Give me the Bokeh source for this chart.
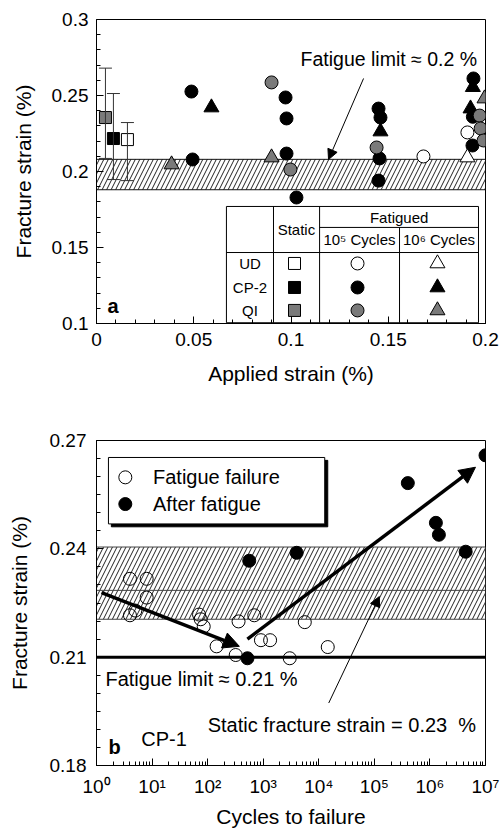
from bokeh.plotting import figure
from bokeh.layouts import column
from bokeh.models import (Arrow, NormalHead, Whisker, ColumnDataSource, FixedTicker,
                          CustomJSTickFormatter, Span, TeeHead)
from bokeh.core.properties import value
from bokeh.embed import file_html
from bokeh.resources import INLINE

FONT = "Liberation Sans"
BLACK, GRAY, WHITE = "#000000", "#7a7a7a", "#ffffff"

# ---------------- (a) fracture strain vs applied strain ----------------
static_x = [0.0159, 0.0087, 0.0046]          # UD, CP-2, QI
static_y = [0.221, 0.2217, 0.2355]
static_lo = [0.194, 0.1947, 0.2086]
static_hi = [0.2322, 0.2513, 0.268]
static_color = [WHITE, BLACK, GRAY]

ud_c5_x = [0.1681, 0.1907]
ud_c5_y = [0.2099, 0.2257]
cp2_c5_x = [0.0488, 0.0494, 0.0972, 0.0977, 0.0977, 0.1028, 0.145, 0.146, 0.1455, 0.145, 0.1938, 0.1933, 0.1935]
cp2_c5_y = [0.2526, 0.2079, 0.2487, 0.2349, 0.2118, 0.1829, 0.2414, 0.2355, 0.2086, 0.194, 0.2612, 0.2171, 0.2360]
qi_c5_x = [0.09, 0.0997, 0.144, 0.197, 0.1975, 0.199]
qi_c5_y = [0.2586, 0.2013, 0.2158, 0.2368, 0.2283, 0.2204]

ud_c6_x = [0.1907]
ud_c6_y = [0.2092]
cp2_c6_x = [0.0591, 0.146, 0.1935, 0.1923]
cp2_c6_y = [0.2421, 0.2263, 0.2555, 0.2414]
qi_c6_x = [0.0386, 0.09, 0.1995]
qi_c6_y = [0.2046, 0.2092, 0.248]

band_a = (0.188, 0.208)
fatigue_limit_a_arrow = (0.1373, 0.2612, 0.1193, 0.2079)

p1 = figure(width=502, height=405, x_range=(0, 0.2), y_range=(0.1, 0.3),
            output_backend="svg", toolbar_location=None,
            min_border_left=96, min_border_right=17, min_border_top=19, min_border_bottom=82)


def style(p, xlabel, ylabel, xlabel_standoff, ylabel_standoff, xstd, ystd):
    p.background_fill_color = "white"
    p.border_fill_color = "white"
    p.outline_line_color = "black"
    p.outline_line_width = 1
    p.xgrid.visible = False
    p.ygrid.visible = False
    for ax in (p.xaxis[0], p.yaxis[0]):
        ax.axis_line_color = "black"
        ax.major_tick_in = 7
        ax.major_tick_out = 0
        ax.minor_tick_in = 4
        ax.minor_tick_out = 0
        ax.major_tick_line_color = "black"
        ax.minor_tick_line_color = "black"
        ax.major_label_text_font = FONT
        ax.major_label_text_font_size = "19px"
        ax.major_label_text_color = "black"
        ax.axis_label_text_font = FONT
        ax.axis_label_text_font_size = "21px"
        ax.axis_label_text_font_style = "normal"
        ax.axis_label_text_color = "black"
    p.xaxis[0].axis_label = xlabel
    p.yaxis[0].axis_label = ylabel
    p.xaxis[0].axis_label_standoff = xlabel_standoff
    p.yaxis[0].axis_label_standoff = ylabel_standoff
    p.xaxis[0].major_label_standoff = xstd
    p.yaxis[0].major_label_standoff = ystd


style(p1, "Applied strain (%)", "Fracture strain (%)", 13, 14, 9, 8)
num_fmt = CustomJSTickFormatter(code="return String(Number(tick.toFixed(4)));")
p1.xaxis[0].ticker = FixedTicker(ticks=[0, 0.05, 0.1, 0.15, 0.2],
                                 minor_ticks=[i * 0.01 for i in range(21)])
p1.yaxis[0].ticker = FixedTicker(ticks=[0.1, 0.15, 0.2, 0.25, 0.3],
                                 minor_ticks=[0.1 + i * 0.01 for i in range(21)])
p1.xaxis[0].formatter = num_fmt
p1.yaxis[0].formatter = num_fmt

# hatched fatigue-limit band
p1.quad(left=[0], right=[0.2], bottom=[band_a[0]], top=[band_a[1]],
        fill_color=None, hatch_pattern="/", hatch_color="#222222", hatch_weight=1,
        hatch_scale=9, line_color="#111111", line_width=1)

# static strength with scatter bars
src_static = ColumnDataSource(dict(x=static_x, y=static_y, lo=static_lo, hi=static_hi,
                                   c=static_color))
wh = Whisker(source=src_static, base="x", lower="lo", upper="hi", dimension="height",
             line_color="#333333", line_width=1, level="glyph",
             lower_head=TeeHead(size=13, line_color="#333333", line_width=1),
             upper_head=TeeHead(size=13, line_color="#333333", line_width=1))
p1.add_layout(wh)
p1.scatter("x", "y", source=src_static, marker="square", size=12,
           fill_color="c", line_color="black", line_width=1)

CIRC, TRI = 13, 15
p1.scatter(cp2_c5_x, cp2_c5_y, marker="circle", size=CIRC, fill_color=BLACK, line_color="black")
p1.scatter(cp2_c6_x, cp2_c6_y, marker="triangle", size=TRI, fill_color=BLACK, line_color="black")
p1.scatter(qi_c5_x, qi_c5_y, marker="circle", size=CIRC, fill_color=GRAY, line_color="black")
p1.scatter(qi_c6_x, qi_c6_y, marker="triangle", size=TRI, fill_color=GRAY, line_color="black")
p1.scatter(ud_c5_x, ud_c5_y, marker="circle", size=CIRC, fill_color=WHITE, line_color="black")
p1.scatter(ud_c6_x, ud_c6_y, marker="triangle", size=TRI, fill_color=WHITE, line_color="black")

p1.text(x=[0.1049], y=[0.2737], text=["Fatigue limit \u2248 0.2 %"], text_font=value(FONT),
        text_font_size="19.5px", text_align="left", text_baseline="middle", text_color="black")
x0, y0, x1, y1 = fatigue_limit_a_arrow
p1.add_layout(Arrow(x_start=x0, y_start=y0, x_end=x1, y_end=y1, line_width=1,
                    line_color="black",
                    end=NormalHead(size=10, fill_color="black", line_color="black", line_width=1)))
p1.text(x=[0.0057], y=[0.1112], text=["a"], text_font=value(FONT), text_font_size="20px",
        text_font_style="bold", text_align="left", text_baseline="middle")

# legend table
TL, TR, TT, TB = 0.0668, 0.1964, 0.177, 0.1005
C1, C2, C3 = 0.091, 0.1147, 0.1558
H1, H2 = 0.1467, 0.1632
p1.quad(left=[TL], right=[TR], bottom=[TB], top=[TT], fill_color="white",
        line_color="black", line_width=1)
p1.segment(x0=[C1, C2, C3, TL, C2], y0=[TB, TB, TB, H1, H2],
           x1=[C1, C2, C3, TR, TR], y1=[TT, TT, H2, H1, H2],
           line_color="black", line_width=1)
row_y = [0.1395, 0.1237, 0.1086]
p1.text(x=[0.0789] * 3, y=row_y, text=["UD", "CP-2", "QI"], text_font=value(FONT),
        text_font_size="15px", text_align="center", text_baseline="middle")
p1.text(x=[0.1028, 0.1556, 0.1352, 0.1761], y=[0.1618, 0.1700, 0.1550, 0.1550],
        text=["Static", "Fatigued", "10\u2075 Cycles", "10\u2076 Cycles"],
        text_font=value(FONT), text_font_size="15px", text_align="center",
        text_baseline="middle")
cols = [WHITE, BLACK, GRAY]
p1.scatter([0.1018] * 3, row_y, marker="square", size=12, fill_color=cols, line_color="black")
p1.scatter([0.1342] * 3, row_y, marker="circle", size=CIRC, fill_color=cols, line_color="black")
p1.scatter([0.1753] * 3, row_y, marker="triangle", size=TRI, fill_color=cols, line_color="black")

# ---------------- (b) CP-1 fracture strain vs cycles ----------------
fail_cycles = [4, 8, 8, 5, 4, 70, 75, 85, 145, 320, 360, 690, 910, 1330, 3000, 5600, 14500]
fail_strain = [0.2317, 0.2317, 0.2265, 0.2229, 0.2216, 0.2218, 0.2205, 0.2185, 0.213,
               0.2106, 0.2199, 0.2216, 0.2147, 0.2147, 0.2097, 0.2197, 0.2128]
after_cycles = [520, 560, 4000, 4.0e5, 1.28e6, 1.45e6, 4.4e6, 1.0e7]
after_strain = [0.2097, 0.2367, 0.2389, 0.2582, 0.2472, 0.2439, 0.2392, 0.2659]

fatigue_limit_b = 0.21
static_strain_b = 0.2285
band_b = (0.2205, 0.2405)
trend_down = (1.23, 0.2279, 372, 0.213)
trend_up = (520, 0.215, 6.6e6, 0.2626)
static_pointer = (15100, 0.1973, 123000, 0.2268)

p2 = figure(width=502, height=425, x_axis_type="log", x_range=(1, 1e7), y_range=(0.18, 0.27),
            output_backend="svg", toolbar_location=None,
            min_border_left=93, min_border_right=17, min_border_top=35, min_border_bottom=64)
style(p2, "Cycles to failure", "Fracture strain (%)", 5, 16, 10, 10)
p2.xaxis[0].ticker = FixedTicker(ticks=[10 ** d for d in range(8)],
                                 minor_ticks=[k * 10 ** d for d in range(7) for k in range(2, 10)])
p2.xaxis[0].formatter = CustomJSTickFormatter(code="""
const sup = ['\u2070','\u00b9','\u00b2','\u00b3','\u2074','\u2075','\u2076','\u2077','\u2078','\u2079'];
return '10' + sup[Math.round(Math.log10(tick))];
""")
p2.yaxis[0].ticker = FixedTicker(ticks=[0.18, 0.21, 0.24, 0.27],
                                 minor_ticks=[0.18 + i * 0.005 for i in range(19)])
p2.yaxis[0].formatter = num_fmt

p2.quad(left=[1], right=[1e7], bottom=[band_b[0]], top=[band_b[1]],
        fill_color=None, hatch_pattern="/", hatch_color="#222222", hatch_weight=1,
        hatch_scale=9, line_color="#444444", line_width=1)
p2.add_layout(Span(location=static_strain_b, dimension="width", line_color="#444444",
                   line_width=1, level="glyph"))
p2.add_layout(Span(location=fatigue_limit_b, dimension="width", line_color="black",
                   line_width=3, level="glyph"))

p2.scatter(fail_cycles, fail_strain, marker="circle", size=13, fill_color=None,
           line_color="black", line_width=1)
p2.scatter(after_cycles, after_strain, marker="circle", size=13, fill_color="black",
           line_color="black")

for (a, b, c, d) in (trend_down, trend_up):
    p2.add_layout(Arrow(x_start=a, y_start=b, x_end=c, y_end=d, line_width=3.5,
                        line_color="black",
                        end=NormalHead(size=16, fill_color="black", line_color="black")))
a, b, c, d = static_pointer
p2.add_layout(Arrow(x_start=a, y_start=b, x_end=c, y_end=d, line_width=1, line_color="black",
                    end=NormalHead(size=10, fill_color="black", line_color="black")))

# legend box with drop shadow
p2.quad(left=[1.85], right=[14500], bottom=[0.2461], top=[0.2645], fill_color="black",
        line_color="black")
p2.quad(left=[1.64], right=[12800], bottom=[0.2469], top=[0.2653], fill_color="white",
        line_color="black", line_width=1)
p2.scatter([3.3], [0.2598], marker="circle", size=13, fill_color=None, line_color="black")
p2.scatter([3.3], [0.2524], marker="circle", size=13, fill_color="black", line_color="black")
p2.text(x=[10.4, 10.4], y=[0.2598, 0.2524], text=["Fatigue failure", "After fatigue"],
        text_font=value(FONT), text_font_size="20px", text_align="left", text_baseline="middle")

p2.text(x=[1.45], y=[0.2039], text=["Fatigue limit \u2248 0.21 %"], text_font=value(FONT),
        text_font_size="20px", text_align="left", text_baseline="middle")
p2.text(x=[100], y=[0.1913], text=["Static fracture strain = 0.23\u00a0 %"],
        text_font=value(FONT), text_font_size="20px", text_align="left",
        text_baseline="middle")
p2.text(x=[1.64], y=[0.1852], text=["b"], text_font=value(FONT), text_font_size="20px",
        text_font_style="bold", text_align="left", text_baseline="middle")
p2.text(x=[6.4], y=[0.1874], text=["CP-1"], text_font=value(FONT), text_font_size="20px",
        text_align="left", text_baseline="middle")

layout = column(p1, p2, spacing=0)
open("out.html", "w").write(file_html(layout, INLINE))
